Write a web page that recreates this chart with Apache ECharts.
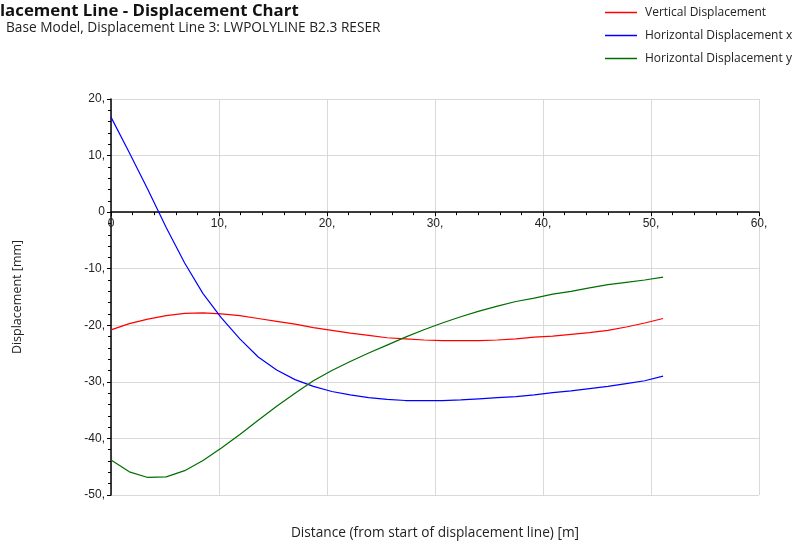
<!DOCTYPE html>
<html>
<head>
<meta charset="utf-8">
<script src="https://cdn.jsdelivr.net/npm/echarts@6/dist/echarts.min.js"></script>
<style>
  html, body { margin: 0; padding: 0; background: #ffffff; }
  #chart { width: 795px; height: 544px; }
</style>
</head>
<body>
<div id="chart"></div>
<script>
// Distance along the displacement line [m]
const distance = [0, 1.70, 3.41, 5.11, 6.82, 8.52, 10.22, 11.93, 13.63, 15.34, 17.04,
  18.74, 20.45, 22.15, 23.86, 25.56, 27.26, 28.97, 30.67, 32.38, 34.08,
  35.78, 37.49, 39.19, 40.90, 42.60, 44.30, 46.01, 47.71, 49.42, 51.12];

// Displacements [mm]
const verticalDisp = [-20.8, -19.7, -18.9, -18.3, -17.9, -17.8, -18.0, -18.3, -18.8, -19.3, -19.8,
  -20.4, -20.9, -21.4, -21.8, -22.2, -22.4, -22.6, -22.7, -22.7, -22.7,
  -22.6, -22.4, -22.1, -21.9, -21.6, -21.3, -20.9, -20.3, -19.6, -18.8];
const horizontalDispX = [16.8, 10.5, 4.0, -2.7, -9.0, -14.4, -18.7, -22.4, -25.6, -27.9, -29.6,
  -30.8, -31.7, -32.3, -32.8, -33.1, -33.3, -33.3, -33.3, -33.2, -33.0,
  -32.8, -32.6, -32.3, -31.9, -31.6, -31.2, -30.8, -30.3, -29.8, -29.0];
const horizontalDispY = [-43.8, -45.9, -46.9, -46.8, -45.7, -43.9, -41.7, -39.3, -36.8, -34.3, -32.0,
  -29.8, -28.0, -26.4, -24.9, -23.5, -22.1, -20.8, -19.6, -18.5, -17.5,
  -16.6, -15.8, -15.2, -14.5, -14.0, -13.4, -12.8, -12.4, -12.0, -11.5];

const seriesNames = ['Vertical Displacement', 'Horizontal Displacement x', 'Horizontal Displacement y'];
const seriesColors = ['#ff0000', '#0000ff', '#006e00'];
const seriesValues = [verticalDisp, horizontalDispX, horizontalDispY];

const titleText = 'lacement Line - Displacement Chart';
const subtitleText = 'Base Model, Displacement Line 3: LWPOLYLINE B2.3 RESER';
const xAxisTitle = 'Distance (from start of displacement line) [m]';
const yAxisTitle = 'Displacement [mm]';

// Axis ranges
const xMin = 0, xMax = 60, xStep = 10;
const yMin = -50, yMax = 20, yStep = 10;

// Plot area
const W = 795, H = 544;
const grid = { left: 111, right: 36, top: 99, bottom: 49 };
const plotH = H - grid.top - grid.bottom;
// The distance axis (line, ticks and labels) sits on the zero displacement line
const zeroOffset = -plotH * (0 - yMin) / (yMax - yMin);

const tickLabel = v => (v === 0 ? '0' : v + ',');
const uiFont = 'Open Sans';

const chart = echarts.init(document.getElementById('chart'), null, { renderer: 'canvas' });

chart.setOption({
  backgroundColor: '#ffffff',
  animation: false,
  title: [
    {
      text: titleText,
      left: -5, top: -2,
      textStyle: { fontFamily: uiFont, fontSize: 16.8, fontWeight: 'bold', color: '#111' }
    },
    {
      text: subtitleText,
      left: 1, top: 16,
      textStyle: { fontFamily: uiFont, fontSize: 13.7, fontWeight: 'normal', color: '#222' }
    }
  ],
  graphic: [
    {
      type: 'text',
      x: grid.left + (W - grid.left - grid.right) / 2,
      y: 533,
      style: {
        text: xAxisTitle,
        fontFamily: uiFont, fontSize: 13.7, fill: '#222',
        textAlign: 'center', textVerticalAlign: 'middle'
      }
    }
  ],
  legend: {
    orient: 'vertical',
    left: 605, top: 4,
    padding: 0,
    itemWidth: 32, itemHeight: 1.5,
    itemGap: 6,
    icon: 'rect',
    textStyle: { fontFamily: uiFont, fontSize: 12, color: '#222', padding: [0, 0, 0, 3], lineHeight: 17 },
    data: seriesNames
  },
  grid: { left: grid.left, right: grid.right, top: grid.top, bottom: grid.bottom, containLabel: false },
  xAxis: {
    type: 'value',
    min: xMin, max: xMax, interval: xStep,
    offset: zeroOffset,
    axisLine: { show: true, onZero: false, lineStyle: { color: '#000', width: 1.5 } },
    axisTick: { show: true, length: 4, lineStyle: { color: '#000' } },
    minorTick: { show: true, splitNumber: 5, length: 3, lineStyle: { color: '#000' } },
    axisLabel: { formatter: tickLabel, fontFamily: 'Liberation Sans', fontSize: 12, color: '#222', margin: 6 },
    splitLine: { show: true, lineStyle: { color: '#d9d9d9', width: 1 } }
  },
  yAxis: {
    type: 'value',
    min: yMin, max: yMax, interval: yStep,
    name: yAxisTitle,
    nameLocation: 'middle',
    nameGap: 87,
    nameRotate: 90,
    nameTextStyle: { fontFamily: uiFont, fontSize: 12.5, color: '#222' },
    axisLine: { show: true, onZero: false, lineStyle: { color: '#000', width: 1.5 } },
    axisTick: { show: true, length: 4, lineStyle: { color: '#000' } },
    minorTick: { show: true, splitNumber: 5, length: 3, lineStyle: { color: '#000' } },
    axisLabel: { formatter: tickLabel, fontFamily: 'Liberation Sans', fontSize: 12, color: '#222', margin: 6 },
    splitLine: { show: true, lineStyle: { color: '#d9d9d9', width: 1 } }
  },
  series: seriesNames.map((name, i) => ({
    name: name,
    type: 'line',
    data: distance.map((d, k) => [d, seriesValues[i][k]]),
    showSymbol: false,
    smooth: false,
    color: seriesColors[i],
    lineStyle: { color: seriesColors[i], width: 1.2 },
    z: 3 + i
  }))
});
</script>
</body>
</html>
